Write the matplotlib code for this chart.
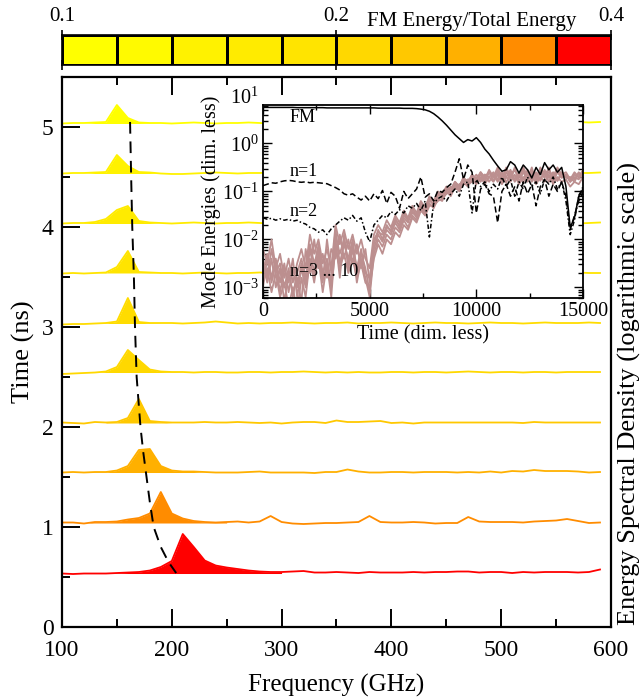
import numpy as np
import matplotlib
matplotlib.use('Agg')
import matplotlib.pyplot as plt
from matplotlib.colors import ListedColormap
from matplotlib.ticker import MultipleLocator, LogLocator, NullFormatter, FixedLocator

plt.rcParams['font.family'] = ['Liberation Serif', 'DejaVu Serif']
plt.rcParams['mathtext.fontset'] = 'custom'
plt.rcParams['mathtext.rm'] = 'Liberation Serif'
plt.rcParams['mathtext.it'] = 'Liberation Serif:italic'

# ---- colour bar (FM energy / total energy) ----
cb_colors = ['#ffff00', '#fffa00', '#fff200', '#ffeb00', '#ffe400',
             '#ffd800', '#ffc800', '#ffb000', '#ff8c00', '#ff0000']
cb_ticks = [0.1, 0.2, 0.4]

# ---- spectra: frequency grid (GHz) and offset spectra, one per time ----
freq = np.array(list(range(100, 600, 10)))
times = [0.5, 1.0, 1.5, 2.0, 2.5, 3.0, 3.5, 4.0, 4.5, 5.0]
base_level = [0.535, 1.04, 1.545, 2.04, 2.545, 3.035, 3.54, 4.035, 4.535, 5.035]
spec_colors = ['#ff0000', '#ff8c00', '#ffb000', '#ffc800', '#ffd800',
               '#ffdc00', '#ffe400', '#ffeb00', '#fff200', '#ffff00']
peak_window = [(140, 300), (130, 250), (130, 220), (140, 190), (130, 200),
               (140, 180), (140, 180), (120, 180), (130, 180), (130, 180)]

esd_05 = [0.535, 0.53, 0.535, 0.535, 0.535, 0.54, 0.545, 0.55, 0.565, 0.60,
          0.66, 0.93, 0.80, 0.665, 0.615, 0.595, 0.58, 0.565, 0.555, 0.55,
          0.55, 0.555, 0.56, 0.545, 0.545, 0.55, 0.545, 0.54, 0.55, 0.545,
          0.545, 0.545, 0.55, 0.545, 0.55, 0.55, 0.555, 0.555, 0.545, 0.55,
          0.55, 0.54, 0.55, 0.545, 0.55, 0.55, 0.55, 0.545, 0.55, 0.575]
esd_10 = [1.045, 1.045, 1.035, 1.05, 1.05, 1.055, 1.075, 1.09, 1.135, 1.35,
          1.135, 1.085, 1.06, 1.05, 1.045, 1.05, 1.055, 1.045, 1.055, 1.11,
          1.05, 1.035, 1.03, 1.035, 1.04, 1.04, 1.045, 1.05, 1.11, 1.05,
          1.045, 1.045, 1.05, 1.045, 1.035, 1.04, 1.04, 1.10, 1.055, 1.05,
          1.05, 1.05, 1.045, 1.055, 1.06, 1.065, 1.08, 1.06, 1.04, 1.045]
esd_15 = [1.545, 1.55, 1.545, 1.55, 1.55, 1.565, 1.61, 1.77, 1.78, 1.61,
          1.565, 1.555, 1.555, 1.55, 1.545, 1.545, 1.545, 1.55, 1.555, 1.545,
          1.545, 1.545, 1.545, 1.54, 1.55, 1.55, 1.575, 1.555, 1.545, 1.545,
          1.55, 1.55, 1.545, 1.55, 1.55, 1.55, 1.545, 1.55, 1.545, 1.555,
          1.545, 1.56, 1.555, 1.57, 1.56, 1.56, 1.56, 1.555, 1.545, 1.55]
esd_20 = [2.045, 2.04, 2.035, 2.05, 2.045, 2.05, 2.09, 2.28, 2.06, 2.05,
          2.045, 2.045, 2.045, 2.05, 2.045, 2.045, 2.05, 2.045, 2.04, 2.045,
          2.035, 2.045, 2.05, 2.05, 2.04, 2.065, 2.05, 2.05, 2.055, 2.06,
          2.04, 2.045, 2.035, 2.045, 2.045, 2.045, 2.045, 2.045, 2.045, 2.045,
          2.045, 2.045, 2.04, 2.05, 2.045, 2.045, 2.045, 2.045, 2.045, 2.045]
esd_25 = [2.53, 2.535, 2.54, 2.545, 2.555, 2.60, 2.77, 2.67, 2.575, 2.555,
          2.55, 2.55, 2.545, 2.55, 2.55, 2.545, 2.545, 2.55, 2.55, 2.545,
          2.55, 2.55, 2.555, 2.55, 2.545, 2.55, 2.545, 2.55, 2.545, 2.545,
          2.55, 2.55, 2.545, 2.55, 2.55, 2.545, 2.55, 2.555, 2.55, 2.545,
          2.55, 2.55, 2.545, 2.55, 2.55, 2.545, 2.55, 2.55, 2.55, 2.55]
esd_30 = [3.025, 3.03, 3.03, 3.035, 3.04, 3.055, 3.29, 3.05, 3.04, 3.04,
          3.04, 3.035, 3.04, 3.045, 3.055, 3.045, 3.035, 3.04, 3.035, 3.04,
          3.04, 3.045, 3.04, 3.035, 3.04, 3.04, 3.045, 3.035, 3.04, 3.04,
          3.045, 3.04, 3.035, 3.04, 3.045, 3.04, 3.04, 3.035, 3.04, 3.045,
          3.04, 3.04, 3.035, 3.04, 3.045, 3.04, 3.04, 3.04, 3.045, 3.04]
esd_35 = [3.535, 3.54, 3.535, 3.54, 3.545, 3.60, 3.76, 3.55, 3.545, 3.54,
          3.54, 3.535, 3.54, 3.545, 3.54, 3.535, 3.54, 3.54, 3.545, 3.54,
          3.54, 3.535, 3.54, 3.545, 3.54, 3.54, 3.535, 3.54, 3.545, 3.54,
          3.54, 3.545, 3.54, 3.535, 3.54, 3.54, 3.545, 3.54, 3.54, 3.535,
          3.54, 3.545, 3.54, 3.54, 3.535, 3.54, 3.54, 3.545, 3.54, 3.54]
esd_40 = [4.035, 4.04, 4.04, 4.05, 4.08, 4.17, 4.21, 4.06, 4.045, 4.04,
          4.035, 4.04, 4.045, 4.04, 4.035, 4.04, 4.04, 4.045, 4.04, 4.035,
          4.04, 4.045, 4.04, 4.04, 4.035, 4.04, 4.045, 4.04, 4.035, 4.04,
          4.045, 4.04, 4.04, 4.035, 4.04, 4.045, 4.04, 4.035, 4.04, 4.04,
          4.045, 4.04, 4.035, 4.04, 4.045, 4.04, 4.04, 4.035, 4.04, 4.045]
esd_45 = [4.535, 4.54, 4.54, 4.545, 4.55, 4.72, 4.61, 4.55, 4.545, 4.535,
          4.53, 4.53, 4.535, 4.54, 4.545, 4.54, 4.535, 4.54, 4.54, 4.545,
          4.54, 4.535, 4.54, 4.545, 4.54, 4.535, 4.54, 4.54, 4.545, 4.54,
          4.535, 4.54, 4.545, 4.54, 4.535, 4.54, 4.54, 4.545, 4.54, 4.535,
          4.54, 4.545, 4.54, 4.535, 4.54, 4.54, 4.545, 4.54, 4.54, 4.545]
esd_50 = [5.035, 5.04, 5.04, 5.045, 5.05, 5.22, 5.09, 5.045, 5.04, 5.04,
          5.035, 5.04, 5.045, 5.04, 5.035, 5.04, 5.04, 5.045, 5.04, 5.035,
          5.04, 5.045, 5.04, 5.04, 5.035, 5.04, 5.045, 5.04, 5.035, 5.04,
          5.045, 5.04, 5.04, 5.035, 5.04, 5.045, 5.04, 5.035, 5.04, 5.04,
          5.045, 5.04, 5.035, 5.04, 5.045, 5.04, 5.045, 5.05, 5.045, 5.05]
spectra = [esd_05, esd_10, esd_15, esd_20, esd_25,
           esd_30, esd_35, esd_40, esd_45, esd_50]

# peak-frequency trend (dashed)
fit_time = [5.05, 4.5, 4.0, 3.5, 3.0, 2.5, 2.0, 1.75, 1.5, 1.25, 1.0, 0.8, 0.65, 0.54]
fit_freq = [162, 163, 164, 165.5, 166.5, 168, 171.5, 174, 177, 180, 183.5, 190, 197, 204]

# ---- inset: mode energies vs time (log10 values) ----
t_inset = np.array(list(range(0, 15001, 200)))
fm_log = [0.75, 0.75, 0.75, 0.75, 0.75, 0.75, 0.75, 0.75, 0.745, 0.745,
          0.745, 0.745, 0.745, 0.745, 0.745, 0.74, 0.74, 0.74, 0.74, 0.74,
          0.74, 0.74, 0.74, 0.74, 0.74, 0.74, 0.74, 0.735, 0.735, 0.735,
          0.735, 0.735, 0.735, 0.73, 0.73, 0.73, 0.725, 0.715, 0.70, 0.67,
          0.62, 0.55, 0.47, 0.38, 0.28, 0.18, 0.10, 0.02, 0.08, 0.05,
          0.12, 0.02, -0.12, -0.22, -0.35, -0.47, -0.58, -0.55, -0.38, -0.45,
          -0.62, -0.45, -0.55, -0.72, -0.50, -0.65, -0.40, -0.55, -0.45, -0.60,
          -0.50, -0.90, -1.75, -1.55, -1.10, -0.95]
n1_log = [-0.88, -0.85, -0.82, -0.83, -0.80, -0.78, -0.77, -0.78, -0.80, -0.81,
          -0.80, -0.82, -0.81, -0.82, -0.83, -0.84, -0.88, -0.92, -0.97, -1.05,
          -1.08, -1.05, -1.12, -1.18, -1.10, -1.20, -1.05, -1.15, -0.98, -1.25,
          -1.02, -1.10, -1.35, -1.00, -1.15, -1.05, -0.95, -0.70, -1.12, -1.05,
          -1.20, -0.98, -1.02, -0.92, -0.85, -0.60, -0.32, -0.75, -0.45, -0.60,
          -1.45, -0.95, -0.85, -1.05, -1.10, -1.65, -1.00, -0.85, -1.10, -0.90,
          -1.20, -0.80, -1.05, -0.85, -1.30, -0.90, -0.75, -1.10, -0.85, -1.00,
          -0.80, -1.10, -1.80, -1.50, -1.20, -1.00]
n2_log = [-1.55, -1.58, -1.56, -1.60, -1.57, -1.60, -1.58, -1.62, -1.60, -1.65,
          -1.68, -1.75, -1.78, -1.85, -1.80, -1.90, -1.78, -1.70, -1.62, -1.55,
          -1.60, -1.50, -1.62, -1.55, -1.85, -2.05, -1.70, -1.60, -1.50, -1.55,
          -1.42, -1.48, -1.38, -1.45, -1.30, -1.35, -1.25, -1.40, -1.20, -1.95,
          -1.25, -1.15, -1.10, -1.20, -1.05, -0.95, -1.10, -0.85, -0.80, -1.45,
          -0.75, -0.90, -0.80, -1.00, -0.85, -0.95, -0.70, -0.90, -0.75, -1.10,
          -0.80, -0.95, -0.70, -0.90, -0.80, -1.05, -0.75, -0.85, -0.70, -0.95,
          -0.80, -1.20, -1.90, -1.60, -1.10, -0.90]
high_a = [-2.2, -2.5, -2.0, -2.6, -2.3, -2.8, -2.4, -2.9, -2.5, -2.2,
          -2.6, -1.9, -2.3, -2.0, -2.5, -2.2, -2.6, -1.7, -2.1, -1.8,
          -2.2, -1.9, -2.3, -2.0, -2.4, -2.6, -1.9, -1.7, -1.85, -1.6,
          -1.75, -1.5, -1.65, -1.4, -1.55, -1.3, -1.45, -1.2, -1.35, -1.1,
          -1.2, -1.0, -1.1, -0.9, -1.0, -0.8, -0.9, -0.7, -0.85, -0.65,
          -0.8, -0.6, -0.75, -0.55, -0.7, -0.6, -0.75, -0.5, -0.7, -0.55,
          -0.72, -0.5, -0.68, -0.55, -0.75, -0.5, -0.65, -0.55, -0.7, -0.5,
          -0.65, -0.6, -0.75, -0.6, -0.7, -0.55]
high_b = [-2.9, -2.6, -3.1, -2.7, -3.2, -2.9, -3.4, -3.0, -3.5, -2.8,
          -3.2, -2.4, -2.9, -2.3, -2.8, -2.6, -3.0, -2.2, -2.6, -2.3,
          -2.7, -2.4, -2.8, -2.5, -2.9, -3.0, -2.4, -2.1, -2.3, -2.0,
          -2.1, -1.85, -1.95, -1.7, -1.8, -1.55, -1.65, -1.4, -1.5, -1.25,
          -1.35, -1.15, -1.2, -1.0, -1.1, -0.9, -1.0, -0.8, -0.9, -0.75,
          -0.85, -0.7, -0.85, -0.7, -0.8, -0.65, -0.85, -0.7, -0.8, -0.65,
          -0.85, -0.7, -0.8, -0.65, -0.85, -0.7, -0.8, -0.65, -0.85, -0.7,
          -0.8, -0.75, -0.9, -0.8, -0.85, -0.7]
high_c = [-2.5, -2.9, -2.4, -3.0, -2.6, -3.3, -2.7, -3.1, -2.8, -3.3,
          -2.2, -2.7, -2.0, -2.6, -2.3, -2.8, -2.2, -2.4, -1.9, -2.4,
          -2.0, -2.5, -2.1, -2.6, -2.2, -2.9, -2.2, -1.9, -2.05, -1.8,
          -1.9, -1.65, -1.8, -1.55, -1.65, -1.4, -1.55, -1.3, -1.4, -1.2,
          -1.25, -1.05, -1.15, -0.95, -1.05, -0.85, -0.95, -0.75, -0.8, -0.7,
          -0.75, -0.65, -0.8, -0.6, -0.78, -0.55, -0.8, -0.6, -0.75, -0.5,
          -0.8, -0.6, -0.75, -0.5, -0.8, -0.6, -0.72, -0.5, -0.8, -0.6,
          -0.72, -0.65, -0.8, -0.7, -0.75, -0.6]
high_d = [-2.7, -2.3, -2.8, -2.4, -2.9, -2.5, -3.1, -2.6, -3.0, -2.5,
          -2.9, -2.2, -2.7, -2.1, -2.7, -2.4, -2.9, -1.9, -2.3, -2.0,
          -2.5, -2.1, -2.6, -2.2, -2.7, -2.8, -2.1, -1.8, -2.0, -1.7,
          -1.85, -1.6, -1.7, -1.5, -1.6, -1.35, -1.5, -1.25, -1.3, -1.15,
          -1.2, -1.05, -1.05, -0.9, -0.95, -0.8, -0.9, -0.72, -0.8, -0.65,
          -0.75, -0.6, -0.7, -0.6, -0.7, -0.5, -0.7, -0.55, -0.65, -0.55,
          -0.7, -0.55, -0.72, -0.6, -0.7, -0.55, -0.7, -0.6, -0.72, -0.55,
          -0.7, -0.65, -0.8, -0.65, -0.7, -0.6]
high_e = [-2.4, -2.8, -2.2, -2.7, -2.5, -3.0, -2.6, -3.2, -2.7, -2.4,
          -2.8, -2.1, -2.5, -2.2, -2.9, -2.0, -2.7, -1.8, -2.5, -2.1,
          -2.4, -2.0, -2.7, -2.3, -2.6, -3.1, -2.0, -1.85, -1.9, -1.75,
          -1.8, -1.55, -1.75, -1.45, -1.6, -1.45, -1.5, -1.3, -1.45, -1.15,
          -1.3, -1.1, -1.0, -1.0, -0.9, -0.95, -0.85, -0.8, -0.75, -0.75,
          -0.65, -0.75, -0.65, -0.7, -0.6, -0.75, -0.6, -0.7, -0.55, -0.75,
          -0.6, -0.75, -0.55, -0.75, -0.6, -0.78, -0.55, -0.72, -0.6, -0.78,
          -0.6, -0.7, -0.7, -0.75, -0.6, -0.7]
high_f = [-3.0, -2.4, -2.9, -2.5, -3.1, -2.6, -2.9, -2.4, -3.2, -2.6,
          -3.0, -2.5, -2.8, -2.4, -3.1, -2.5, -3.2, -2.0, -2.8, -1.9,
          -2.6, -2.2, -2.9, -2.4, -2.8, -3.2, -2.3, -2.0, -2.15, -1.9,
          -2.0, -1.75, -1.85, -1.6, -1.75, -1.5, -1.6, -1.35, -1.5, -1.3,
          -1.3, -1.2, -1.15, -1.05, -1.0, -0.95, -0.95, -0.85, -0.85, -0.8,
          -0.7, -0.8, -0.65, -0.8, -0.65, -0.8, -0.62, -0.82, -0.6, -0.8,
          -0.65, -0.82, -0.6, -0.8, -0.62, -0.75, -0.6, -0.8, -0.62, -0.78,
          -0.62, -0.72, -0.72, -0.8, -0.62, -0.72]
high_modes = [high_a, high_b, high_c, high_d, high_e, high_f]

fig = plt.figure(figsize=(6.43, 6.98), dpi=100)

# main axes
ax = fig.add_axes([0.0964, 0.1017, 0.8538, 0.788])
for vals, base, col, (lo, hi) in zip(spectra, base_level, spec_colors, peak_window):
    v = np.array(vals)
    ax.plot(freq, v, color=col, lw=1.3, zorder=2)
    m = (freq >= lo) & (freq <= hi)
    ax.fill_between(freq, base, v, where=m & (v >= base), color=col,
                    lw=0, interpolate=True, zorder=2)
ax.plot(fit_freq, fit_time, color='k', lw=1.4, dashes=(6, 4), zorder=3)

ax.set_xlim(100, 600)
ax.set_ylim(0, 5.5)
ax.xaxis.set_major_locator(MultipleLocator(100))
ax.xaxis.set_minor_locator(MultipleLocator(50))
ax.yaxis.set_major_locator(FixedLocator([0, 1, 2, 3, 4, 5]))
ax.yaxis.set_minor_locator(FixedLocator([0.5, 1.5, 2.5, 3.5, 4.5]))
ax.tick_params(which='both', direction='in', top=True, right=False,
               width=1.4, labelsize=17)
ax.tick_params(which='major', length=13)
ax.tick_params(which='minor', length=6)
ax.tick_params(axis='x', pad=9)
ax.tick_params(axis='y', pad=6)
for s in ax.spines.values():
    s.set_linewidth(1.6)
ax.set_xlabel('Frequency (GHz)', fontsize=18, labelpad=10)
ax.set_ylabel('Time (ns)', fontsize=19, labelpad=5)
ax.text(1.033, 0.425, 'Energy Spectral Density (logarithmic scale)',
        transform=ax.transAxes, rotation=90, ha='center', va='center', fontsize=19)

# colour bar
cax = fig.add_axes([0.0964, 0.9068, 0.8538, 0.043])
edges = np.geomspace(0.1, 0.4, len(cb_colors) + 1)
cax.pcolormesh(edges, [0, 1], np.arange(len(cb_colors)).reshape(1, -1),
               cmap=ListedColormap(cb_colors), edgecolors='k', linewidth=1.0)
cax.set_xscale('log')
cax.set_xlim(0.1, 0.4)
cax.set_ylim(0, 1)
cax.set_yticks([])
cax.xaxis.set_major_locator(FixedLocator(cb_ticks))
cax.xaxis.set_minor_locator(FixedLocator([]))
cax.xaxis.set_minor_formatter(NullFormatter())
cax.set_xticklabels([str(t) for t in cb_ticks])
cax.tick_params(axis='x', which='major', direction='inout', length=7, width=1.2,
                top=True, bottom=True, labeltop=True, labelbottom=False,
                labelsize=15, pad=3)
for s in cax.spines.values():
    s.set_linewidth(1.2)
cax.annotate('FM Energy/Total Energy', xy=(0.747, 1), xycoords='axes fraction',
             xytext=(0, 6.5), textcoords='offset points', ha='center',
             va='baseline', fontsize=15)

# inset
axin = fig.add_axes([0.409, 0.573, 0.4977, 0.2765])
axin.set_facecolor('white')
for lv in high_modes:
    axin.plot(t_inset, 10 ** np.array(lv), color='#bc8f8f', lw=1.3)
axin.plot(t_inset, 10 ** np.array(n2_log), color='k', lw=1.1, dashes=(3, 1.5, 1, 1.5))
axin.plot(t_inset, 10 ** np.array(n1_log), color='k', lw=1.1, dashes=(4, 2))
axin.plot(t_inset, 10 ** np.array(fm_log), color='k', lw=1.1)
axin.set_yscale('log')
axin.set_xlim(0, 15000)
axin.set_ylim(6e-4, 6.3)
axin.xaxis.set_major_locator(MultipleLocator(5000))
axin.xaxis.set_minor_locator(MultipleLocator(2500))
axin.yaxis.set_major_locator(LogLocator(base=10, numticks=10))
axin.yaxis.set_minor_locator(LogLocator(base=10, subs=np.arange(2, 10), numticks=20))
axin.yaxis.set_minor_formatter(NullFormatter())
axin.tick_params(which='both', direction='in', top=True, right=True,
                 width=1.0, labelsize=14.5, pad=3)
axin.tick_params(which='major', length=6.5)
axin.tick_params(which='minor', length=3.5)
for s in axin.spines.values():
    s.set_linewidth(1.3)
axin.set_xlabel('Time (dim. less)', fontsize=14.5, labelpad=3)
axin.set_ylabel('Mode Energies (dim. less)', fontsize=14.5, labelpad=1)
axin.annotate(r'$10^{1}$', xy=(0, 10), xycoords=('axes fraction', 'data'),
              xytext=(-3, 0), textcoords='offset points', ha='right',
              va='center_baseline', fontsize=14.5, annotation_clip=False)
axin.text(1250, 3.4, 'FM', fontsize=13, ha='left', va='center')
axin.text(1250, 0.26, 'n=1', fontsize=13, ha='left', va='center')
axin.text(1250, 0.039, 'n=2', fontsize=13, ha='left', va='center')
axin.text(1250, 0.0021, 'n=3 ... 10', fontsize=13, ha='left', va='center')

fig.savefig('out.png', dpi=100)
